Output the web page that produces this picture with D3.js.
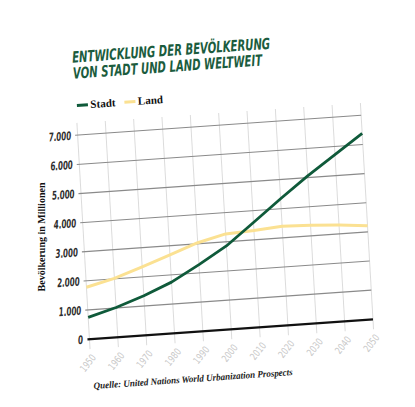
<!DOCTYPE html>
<html><head><meta charset="utf-8">
<script src="https://cdn.jsdelivr.net/npm/d3@7"></script>
<style>body{margin:0;background:#fff}svg{display:block}</style>
</head><body>
<svg id="c" width="415" height="407"></svg>
<script>
// ---- data ----
const years = [1950,1960,1970,1980,1990,2000,2010,2020,2030,2040,2050];
const stadt = [746,1019,1354,1752,2285,2857,3595,4338,5058,5716,6380];
const land  = [1779,2019,2345,2686,3035,3270,3321,3397,3367,3300,3212];
const yTicks = [0,1000,2000,3000,4000,5000,6000,7000];
const xTicks = [1950,1960,1970,1980,1990,2000,2010,2020,2030,2040,2050];
const seriesNames = ["Stadt","Land"];
const titleLines = ["ENTWICKLUNG DER BEVÖLKERUNG","VON STADT UND LAND WELTWEIT"];
const yTitle = "Bevölkerung in Millionen";
const source = "Quelle: United Nations World Urbanization Prospects";

// ---- style ----
const cStadt = "#0f5a3a", cLand = "#fbe192", cTitle = "#1b5c3e";
const condensed = "'Liberation Sans Narrow','DejaVu Sans Condensed','Roboto Condensed',Roboto,sans-serif";
const serif = "'Liberation Serif','DejaVu Serif',serif";

const svg = d3.select("#c");
svg.append("rect").attr("width",415).attr("height",407).attr("fill","#fff");
const g = svg.append("g").attr("transform","matrix(1,-0.07,0.058,1,0,0)");

const x = d3.scaleLinear().domain([1950,2050]).range([69.5,353]);
const y = d3.scaleLinear().domain([0,7000]).range([344,140]);
const loc = d3.formatLocale({decimal:",",thousands:".",grouping:[3],currency:["","€"]});
const fmt = loc.format(",");
const labW = s => s.split("").reduce((a,ch)=>a+(ch==="."?2.4:5.0),0);

// vertical gridlines
g.append("g").selectAll("line").data(xTicks).join("line")
  .attr("x1",d=>x(d)).attr("x2",d=>x(d))
  .attr("y1",y(7420)).attr("y2",y(0)+10)
  .attr("stroke","#dcdcdc").attr("stroke-width",1);

// horizontal gridlines
g.append("g").selectAll("line").data(yTicks.filter(d=>d>0)).join("line")
  .attr("x1",x(1950)-2.5).attr("x2",x(2050))
  .attr("y1",d=>y(d)).attr("y2",d=>y(d))
  .attr("stroke","#8a8a8a").attr("stroke-width",1.1);

// zero line
g.append("line").attr("x1",x(1950)-2).attr("x2",x(2050))
  .attr("y1",y(0)).attr("y2",y(0)).attr("stroke","#111").attr("stroke-width",2.2);

// y tick labels
g.append("g").selectAll("text").data(yTicks).join("text")
  .attr("x",63).attr("y",d=>y(d)+4.3)
  .attr("text-anchor","end")
  .attr("font-family",condensed).attr("font-weight","bold").attr("font-style","italic")
  .attr("font-size",12).attr("fill","#2d2d2d")
  .attr("textLength",d=>labW(fmt(d))).attr("lengthAdjust","spacingAndGlyphs")
  .text(d=>fmt(d));

// x tick labels
g.append("g").selectAll("text").data(xTicks).join("text")
  .attr("transform",d=>`translate(${x(d)+6},${y(0)+19}) rotate(-48)`)
  .attr("text-anchor","end")
  .attr("font-family",condensed).attr("font-size",10).attr("fill","#c8c8c8")
  .attr("textLength",19).attr("lengthAdjust","spacingAndGlyphs")
  .text(d=>d);

// lines
const line = d3.line().x((d,i)=>x(years[i])).y(d=>y(d));
g.append("path").datum(land).attr("d",line).attr("fill","none")
  .attr("stroke",cLand).attr("stroke-width",3).attr("stroke-linejoin","round");
g.append("path").datum(stadt).attr("d",line).attr("fill","none")
  .attr("stroke",cStadt).attr("stroke-width",2.8).attr("stroke-linejoin","round");

// title
g.append("g").selectAll("text").data(titleLines).join("text")
  .attr("x",68.5).attr("y",(d,i)=>67.5+i*16)
  .attr("font-family",condensed).attr("font-weight","bold").attr("font-style","italic")
  .attr("font-size",15.5).attr("fill",cTitle)
  .attr("textLength",(d,i)=>i?189:198).attr("lengthAdjust","spacingAndGlyphs")
  .text(d=>d);

// legend
const legX = [70.5,118];
const legColors = [cStadt,cLand];
const leg = g.append("g").selectAll("g").data(seriesNames).join("g");
leg.append("line").attr("x1",(d,i)=>legX[i]).attr("x2",(d,i)=>legX[i]+11)
  .attr("y1",110.5).attr("y2",110.5).attr("stroke",(d,i)=>legColors[i]).attr("stroke-width",3);
leg.append("text").attr("x",(d,i)=>legX[i]+13.5).attr("y",114)
  .attr("font-family",serif).attr("font-weight","bold").attr("font-size",11).attr("fill","#111")
  .text(d=>d);

// source
g.append("text").attr("x",71).attr("y",394)
  .attr("font-family",serif).attr("font-weight","bold").attr("font-style","italic")
  .attr("font-size",9.5).attr("fill","#222")
  .attr("textLength",199).attr("lengthAdjust","spacingAndGlyphs")
  .text(source);

// y axis title (unskewed)
svg.append("text").attr("transform","translate(45,237) rotate(-90)")
  .attr("text-anchor","middle")
  .attr("font-family",serif).attr("font-weight","bold").attr("font-size",10).attr("fill","#111")
  .text(yTitle);
</script>
</body></html>
